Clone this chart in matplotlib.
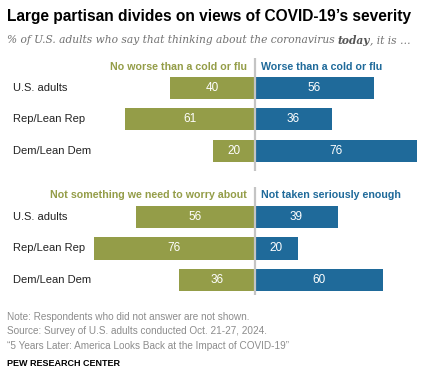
import matplotlib.pyplot as plt

# datos
grupos = ["U.S. adults", "Rep/Lean Rep", "Dem/Lean Dem"]
no_peor = [40, 61, 20]
peor = [56, 36, 76]
no_preocupa = [56, 76, 36]
no_serio = [39, 20, 60]

verde = "#949d48"
azul = "#1f6a9a"
gris = "#8c8c8c"

plt.rcParams["font.family"] = ["Liberation Sans", "DejaVu Sans"]

W, H = 423, 372
fig = plt.figure(figsize=(W / 100, H / 100), dpi=100)

ppu = 2.125  # pixeles por punto porcentual
x0 = 255


def panel(top, bottom, centro0, paso, izq, der, tit_izq, tit_der, y_tit):
    ax = fig.add_axes([0, 1 - bottom / H, 1, (bottom - top) / H])
    ax.set_xlim(-x0 / ppu, (W - x0) / ppu)
    ax.set_ylim((bottom - centro0) / paso, (top - centro0) / paso)
    ax.axis("off")
    pos = range(len(grupos))
    alto = 22 / paso
    ax.barh(pos, [-v for v in izq], height=alto, color=verde)
    ax.barh(pos, der, height=alto, color=azul)
    ax.axvline(0, color="#c4c4c4", lw=1.6)
    for i, (a, b) in enumerate(zip(izq, der)):
        ax.text(-a / 2, i, str(a), color="white", ha="center", va="center", fontsize=8.5)
        ax.text(b / 2, i, str(b), color="white", ha="center", va="center", fontsize=8.5)
        ax.text(-x0 / ppu + 13 / ppu, i, grupos[i], ha="left", va="center", fontsize=8, color="#222222")
    yt = (y_tit - centro0) / paso
    ax.text(-8 / ppu, yt, tit_izq, ha="right", va="center", fontsize=7.7, fontweight="bold", color=verde)
    ax.text(6 / ppu, yt, tit_der, ha="left", va="center", fontsize=7.7, fontweight="bold", color=azul)
    return ax


panel(58, 171, 88, 31.25, no_peor, peor,
      "No worse than a cold or flu", "Worse than a cold or flu", 67)
panel(187, 295, 217, 31.5, no_preocupa, no_serio,
      "Not something we need to worry about", "Not taken seriously enough", 195)

fig.text(7 / W, 1 - 16 / H, "Large partisan divides on views of COVID-19\u2019s severity",
         fontsize=11.2, fontweight="bold", va="center", ha="left", color="black")

# subtítulo en tres partes para poner "today" en negrita
r = fig.canvas.get_renderer()
serif = ["DejaVu Serif"]
x = 7
partes = [("% of U.S. adults who say that thinking about the coronavirus", "normal", "#707070"),
          ("today", "bold", "#555555"),
          (", it is \u2026", "normal", "#707070")]
for k, (txt, peso, col) in enumerate(partes):
    if k == 1:
        x += 3
    tx = fig.text(x / W, 1 - 40 / H, txt, fontsize=7.7, style="italic", fontweight=peso,
                  family=serif, va="center", ha="left", color=col)
    x = tx.get_window_extent(renderer=r).x1

notas = [
    "Note: Respondents who did not answer are not shown.",
    "Source: Survey of U.S. adults conducted Oct. 21-27, 2024.",
    "\u201c5 Years Later: America Looks Back at the Impact of COVID-19\u201d",
]
for i, n in enumerate(notas):
    fig.text(7 / W, 1 - (317 + 14.5 * i) / H, n, fontsize=7.2, color=gris, va="center", ha="left")
fig.text(7 / W, 1 - 363 / H, "PEW RESEARCH CENTER", fontsize=6.5, fontweight="bold",
         color="black", va="center", ha="left")

fig.savefig("out.png", dpi=100)
